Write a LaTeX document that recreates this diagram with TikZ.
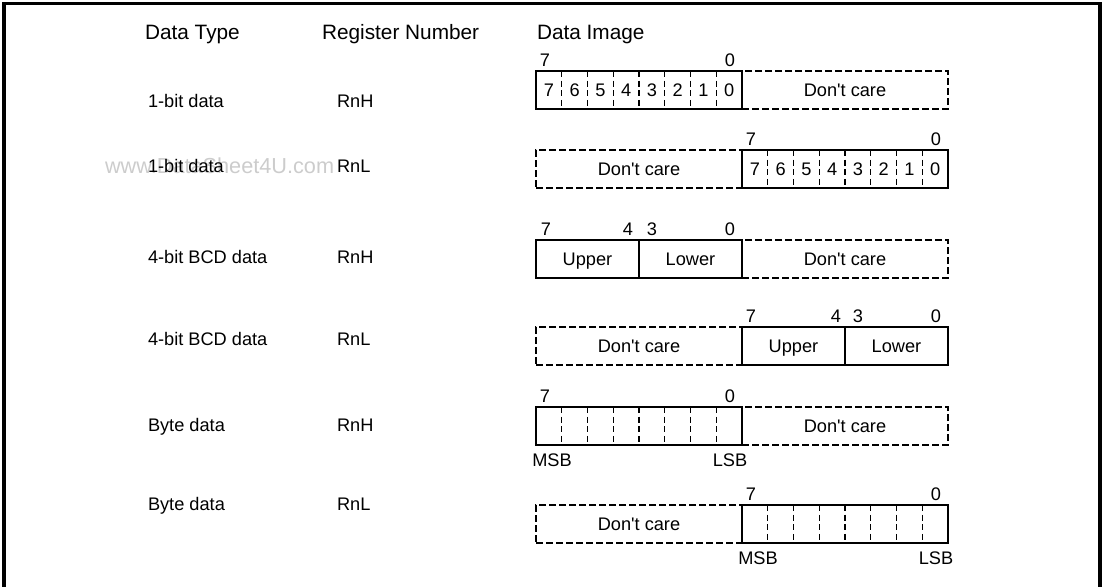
\documentclass[tikz,border=0pt]{standalone}
\usepackage{fontspec}
\setmainfont{Liberation Sans}
\usepackage{tikz}
\usetikzlibrary{positioning}
\definecolor{wmgray}{gray}{0.8}
\newcommand{\dontcare}{Don\textquotesingle t care}

\begin{document}
\begin{tikzpicture}[
    x=0.5pt, y=-0.5pt,
    every node/.style={font=\fontsize{9.1}{11}\selectfont, inner sep=0pt, outer sep=0pt},
    rowtxt/.style={anchor=base west},
    headtxt/.style={anchor=base west, font=\fontsize{10.4}{12.5}\selectfont},
    bitnum/.style={anchor=base},
    regbox/.style={draw=black, line width=1.15pt, minimum width=103pt, minimum height=19pt, text depth=0pt},
    halfbox/.style={regbox, minimum width=51.5pt},
    carebox/.style={draw=black, line width=0.6pt, dash pattern=on 3.3pt off 1.7pt, minimum width=103pt, minimum height=19pt, text depth=0pt},
    bitline/.style={line width=0.6pt, dash pattern=on 3pt off 1.8pt}
    ]
    \useasboundingbox (0,0) rectangle (1103,586);
    \draw[line width=1.6pt] (4,3.3) rectangle (1100,600);

    %Headings
    \node[headtxt] (hType) at (145,39) {Data Type};
    \node[headtxt] (hReg)  at (322,39) {Register Number};
    \node[headtxt] (hImg)  at (537,39) {Data Image};

    %Row labels
    \node[anchor=base west, text=wmgray, font=\fontsize{10.85}{13}\selectfont]
        (wm) at (105,173) {www.DataSheet4U.com};
    \node[rowtxt] (t1) at (148,107) {1-bit data};
    \node[rowtxt] (r1) at (337,107) {RnH};
    \node[rowtxt] (t2) at (148,172) {1-bit data};
    \node[rowtxt] (r2) at (337,172) {RnL};
    \node[rowtxt] (t3) at (148,263) {4-bit BCD data};
    \node[rowtxt] (r3) at (337,263) {RnH};
    \node[rowtxt] (t4) at (148,345) {4-bit BCD data};
    \node[rowtxt] (r4) at (337,345) {RnL};
    \node[rowtxt] (t5) at (148,431) {Byte data};
    \node[rowtxt] (r5) at (337,431) {RnH};
    \node[rowtxt] (t6) at (148,510) {Byte data};
    \node[rowtxt] (r6) at (337,510) {RnL};

    %1-bit data, RnH
    \node[regbox, anchor=north west] (bitH) at (536,71) {};
    \node[carebox, right=0pt of bitH] (careA) {\dontcare};
    \foreach \b in {0,...,7}
        \node (bitH\b) at ({536+25.75*(7.5-\b)},90) {\b};
    \foreach \k in {1,...,7}
        \draw[bitline] ({536+25.75*\k},71) -- ({536+25.75*\k},109);
    \node[bitnum] (bitHmsb) at (545,66.5) {7};
    \node[bitnum] (bitHlsb) at (730,66.5) {0};

    %1-bit data, RnL
    \node[carebox, anchor=north west] (careB) at (536,150) {\dontcare};
    \node[regbox, right=0pt of careB] (bitL) {};
    \foreach \b in {0,...,7}
        \node (bitL\b) at ({742+25.75*(7.5-\b)},169) {\b};
    \foreach \k in {1,...,7}
        \draw[bitline] ({742+25.75*\k},150) -- ({742+25.75*\k},188);
    \node[bitnum] (bitLmsb) at (751,145.5) {7};
    \node[bitnum] (bitLlsb) at (936,145.5) {0};

    %4-bit BCD data, RnH
    \node[halfbox, anchor=north west] (bcdHup) at (536,240) {Upper};
    \node[halfbox, right=0pt of bcdHup] (bcdHlo) {Lower};
    \node[carebox, right=0pt of bcdHlo] (careC) {\dontcare};
    \node[bitnum] (bcdH7) at (546,235.5) {7};
    \node[bitnum] (bcdH4) at (628,235.5) {4};
    \node[bitnum] (bcdH3) at (652,235.5) {3};
    \node[bitnum] (bcdH0) at (730,235.5) {0};

    %4-bit BCD data, RnL
    \node[carebox, anchor=north west] (careD) at (536,327) {\dontcare};
    \node[halfbox, right=0pt of careD] (bcdLup) {Upper};
    \node[halfbox, right=0pt of bcdLup] (bcdLlo) {Lower};
    \node[bitnum] (bcdL7) at (751,322.5) {7};
    \node[bitnum] (bcdL4) at (836,322.5) {4};
    \node[bitnum] (bcdL3) at (858,322.5) {3};
    \node[bitnum] (bcdL0) at (936,322.5) {0};

    %Byte data, RnH
    \node[regbox, anchor=north west] (byteH) at (536,407) {};
    \node[carebox, right=0pt of byteH] (careE) {\dontcare};
    \foreach \k in {1,...,7}
        \draw[bitline] ({536+25.75*\k},407) -- ({536+25.75*\k},445);
    \node[bitnum] (byteH7) at (545,402.5) {7};
    \node[bitnum] (byteH0) at (730,402.5) {0};
    \node[bitnum] (byteHmsb) at (552,466.5) {MSB};
    \node[bitnum] (byteHlsb) at (730,466.5) {LSB};

    %Byte data, RnL
    \node[carebox, anchor=north west] (careF) at (536,505) {\dontcare};
    \node[regbox, right=0pt of careF] (byteL) {};
    \foreach \k in {1,...,7}
        \draw[bitline] ({742+25.75*\k},505) -- ({742+25.75*\k},543);
    \node[bitnum] (byteL7) at (751,500.5) {7};
    \node[bitnum] (byteL0) at (936,500.5) {0};
    \node[bitnum] (byteLmsb) at (758,564.5) {MSB};
    \node[bitnum] (byteLlsb) at (936,564.5) {LSB};
\end{tikzpicture}
\end{document}
